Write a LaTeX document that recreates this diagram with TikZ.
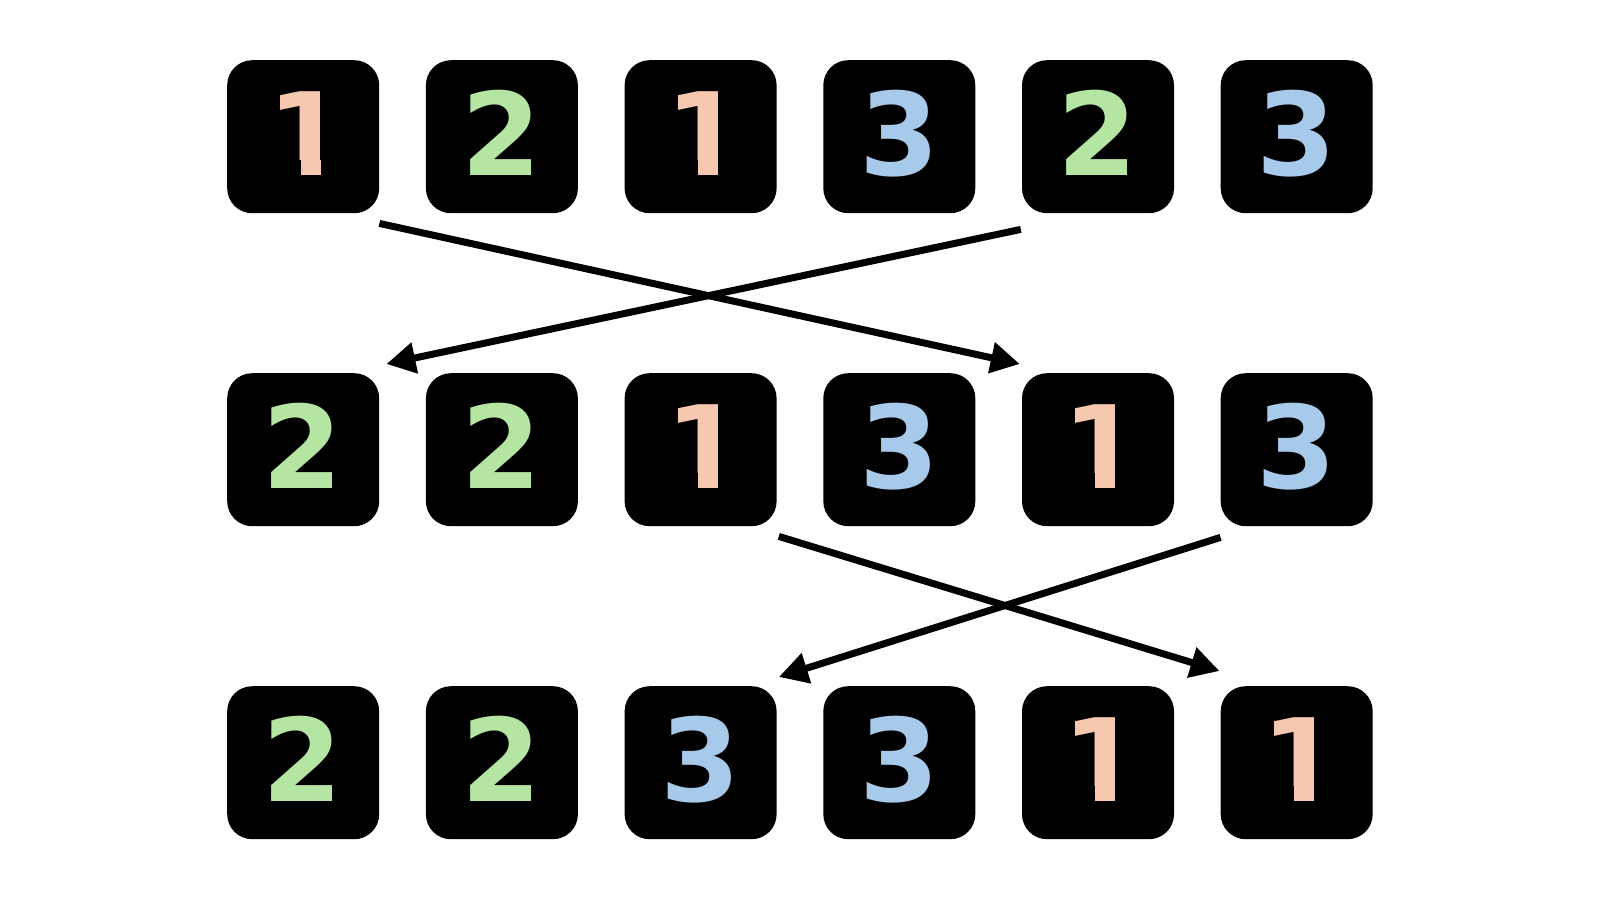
\documentclass[tikz,border=0pt]{standalone}
\usepackage{fontspec}
\newfontfamily\digfont{DejaVu Sans}
\usetikzlibrary{arrows.meta}
\definecolor{cone}{RGB}{246,200,175}
\definecolor{ctwo}{RGB}{181,229,162}
\definecolor{cthree}{RGB}{167,201,234}
\tikzset{
  tile/.style={fill=black, draw=none, rounded corners=25pt, minimum width=152pt, minimum height=153pt, inner sep=0pt, anchor=north west},
  digit/.style={inner sep=0pt, anchor=base, font=\digfont\bfseries\fontsize{115}{115}\selectfont},
  swaparrow/.style={line width=7pt, -{Triangle[length=29pt,width=30pt]}}
}
\begin{document}
\begin{tikzpicture}[x=1pt,y=-1pt]
\useasboundingbox (0,0) rectangle (1600,900);
\foreach \r/\top/\digs in {1/60/{1,2,1,3,2,3}, 2/373/{2,2,1,3,1,3}, 3/686/{2,2,3,3,1,1}}{
  \foreach \d [count=\c] in \digs {
    \pgfmathsetmacro\lft{227+198.7*(\c-1)}
    \node[tile] (b\r\c) at (\lft,\top) {};
    \ifcase\d\or
      \begin{scope}
        \clip (\lft,\top) rectangle ({\lft+152},{\top+99})
              ({\lft+81-7.6},\top) rectangle ({\lft+81+12.1},{\top+120});
        \node[digit, text=cone] (d\r\c) at ({\lft+81},{\top+115}) {1};
      \end{scope}
    \or
      \node[digit, text=ctwo] (d\r\c) at ({\lft+76},{\top+115}) {2};
    \or
      \node[digit, text=cthree] (d\r\c) at ({\lft+76},{\top+115}) {3};
    \fi
  }
}
\coordinate (as) at ([shift={(0,10)}]b11.south east);
\coordinate (ae) at ([shift={(-2,-9)}]b25.north west);
\coordinate (bs) at ([shift={(-1,16)}]b15.south west);
\coordinate (be) at ([shift={(7,-9)}]b21.north east);
\coordinate (cs) at ([shift={(2,10)}]b23.south east);
\coordinate (ce) at ([shift={(-1,-15)}]b36.north west);
\coordinate (ds) at ([shift={(0,11)}]b26.south west);
\coordinate (de) at ([shift={(2,-9)}]b33.north east);
\draw[swaparrow] (as) -- (ae);
\draw[swaparrow] (bs) -- (be);
\draw[swaparrow] (cs) -- (ce);
\draw[swaparrow] (ds) -- (de);
\end{tikzpicture}
\end{document}
